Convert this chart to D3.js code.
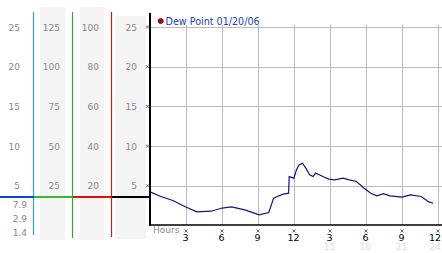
<!DOCTYPE html>
<html>
<head>
<meta charset="utf-8">
<script src="https://cdn.jsdelivr.net/npm/d3@7"></script>
<style>
  body { margin: 0; background: #fff; }
  svg { display: block; }
  text { font-family: "DejaVu Sans", Verdana, sans-serif; }
</style>
</head>
<body>
<div id="chart"></div>
<script>
// width and height
var w = 442;
var h = 253;

// dew point series (hours since midnight, value)
var hours = [0, 0.9, 1.9, 2.9, 3.9, 5.1, 6.0, 6.8, 7.9, 9.1, 9.9, 10.3, 10.6, 11.1, 11.55, 11.6,
  12.0, 12.2, 12.4, 12.7, 13.0, 13.3, 13.6, 13.8, 14.1, 14.5, 14.9, 15.4, 16.1, 16.6, 17.2,
  17.85, 18.4, 18.9, 19.45, 20.0, 21.0, 21.7, 22.6, 23.2, 23.6];
var dewPoint = [4.24, 3.65, 3.15, 2.4, 1.72, 1.8, 2.2, 2.35, 1.97, 1.35, 1.64, 3.45, 3.65, 3.95, 4.07, 6.16,
  5.96, 7.0, 7.6, 7.85, 7.2, 6.4, 6.16, 6.6, 6.4, 6.1, 5.85, 5.75, 5.96, 5.75, 5.55,
  4.7, 4.07, 3.73, 4.0, 3.73, 3.57, 3.86, 3.65, 3.0, 2.8];

var yTicks = [5, 10, 15, 20, 25];
var col2Ticks = [25, 50, 75, 100, 125];
var col3Ticks = [20, 40, 60, 80, 100];
var statLabels = ["7.9", "2.9", "1.4"];
var xTicks = [3, 6, 9, 12, 15, 18, 21, 24];
var xTickLabels = ["3", "6", "9", "12", "3", "6", "9", "12"];
var xTickLabels24 = ["15", "18", "21", "24"];
var currentValue = 3.6;
var legendText = "Dew Point 01/20/06";

var x = d3.scaleLinear().domain([0, 24]).range([150, 438]);
var y = d3.scaleLinear().domain([0, 25]).range([225.5, 27]);
var y2 = d3.scaleLinear().domain([0, 125]).range([225.5, 27]);
var y3 = d3.scaleLinear().domain([0, 100]).range([225.5, 27]);

var svg = d3.select("#chart")
  .append("svg")
  .attr("width", w)
  .attr("height", h);

//--------------------------- LEFT PANELS ---------------------------//

// grey column backgrounds
svg.append("rect").attr("x", 40).attr("y", 7).attr("width", 25).attr("height", 233).attr("fill", "#f4f4f4");
svg.append("rect").attr("x", 80).attr("y", 7).attr("width", 24).attr("height", 233).attr("fill", "#f4f4f4");
svg.append("rect").attr("x", 115).attr("y", 16).attr("width", 31).attr("height", 223).attr("fill", "#f4f4f4");

function colLabels(ticks, scale, right) {
  svg.append("g").selectAll("text")
    .data(ticks)
    .enter()
    .append("text")
    .text(function(d) { return d; })
    .attr("x", right)
    .attr("y", function(d) { return scale(d) + 3.5; })
    .attr("text-anchor", "end")
    .attr("font-size", "9px")
    .attr("fill", "#888888");
}
colLabels(yTicks, y, 20);
colLabels(col2Ticks, y2, 60);
colLabels(col3Ticks, y3, 99);
colLabels(yTicks, y, 137);

svg.selectAll("text.stat")
  .data(statLabels)
  .enter()
  .append("text")
  .attr("class", "stat")
  .text(function(d) { return d; })
  .attr("x", 27)
  .attr("y", function(d, i) { return 207.5 + i * 14; })
  .attr("text-anchor", "end")
  .attr("font-size", "9px")
  .attr("fill", "#888888");

// vertical separators
svg.append("line").attr("x1", 33.5).attr("x2", 33.5).attr("y1", 12).attr("y2", 235).attr("stroke", "#3a9ad9").attr("stroke-width", 1.2);
svg.append("line").attr("x1", 72.5).attr("x2", 72.5).attr("y1", 12).attr("y2", 238).attr("stroke", "#33aa33").attr("stroke-width", 1.2);
svg.append("line").attr("x1", 111.5).attr("x2", 111.5).attr("y1", 12).attr("y2", 237).attr("stroke", "#bb2222").attr("stroke-width", 1.2);

// current value bar
var cy = y(currentValue);
svg.append("line").attr("x1", 0).attr("x2", 34).attr("y1", cy).attr("y2", cy).attr("stroke", "#1040d0").attr("stroke-width", 2);
svg.append("line").attr("x1", 34).attr("x2", 72).attr("y1", cy).attr("y2", cy).attr("stroke", "#33bb33").attr("stroke-width", 2);
svg.append("line").attr("x1", 73).attr("x2", 111).attr("y1", cy).attr("y2", cy).attr("stroke", "#dd1111").attr("stroke-width", 2);
svg.append("line").attr("x1", 112).attr("x2", 150).attr("y1", cy).attr("y2", cy).attr("stroke", "#000").attr("stroke-width", 2);

//--------------------------- PLOT ---------------------------//

// grid
svg.append("g").selectAll("line")
  .data(yTicks)
  .enter()
  .append("line")
  .attr("x1", 150)
  .attr("x2", w)
  .attr("y1", function(d) { return Math.round(y(d)) + 0.5; })
  .attr("y2", function(d) { return Math.round(y(d)) + 0.5; })
  .attr("stroke", "#bbbbbb");

svg.append("g").selectAll("line")
  .data(xTicks)
  .enter()
  .append("line")
  .attr("x1", function(d) { return Math.round(x(d)) + 0.5; })
  .attr("x2", function(d) { return Math.round(x(d)) + 0.5; })
  .attr("y1", 25)
  .attr("y2", 225)
  .attr("stroke", "#bbbbbb");

// axes
svg.append("line").attr("x1", 150).attr("x2", 150).attr("y1", 13).attr("y2", 226).attr("stroke", "#000").attr("stroke-width", 2);
svg.append("line").attr("x1", 149).attr("x2", w).attr("y1", 225).attr("y2", 225).attr("stroke", "#000").attr("stroke-width", 1.5);

// small x tick marks
function tickMark(cx, cy) {
  svg.append("path")
    .attr("d", "M" + (cx - 1.5) + "," + (cy - 1.5) + "L" + (cx + 1.5) + "," + (cy + 1.5) +
      "M" + (cx + 1.5) + "," + (cy - 1.5) + "L" + (cx - 1.5) + "," + (cy + 1.5))
    .attr("stroke", "#444")
    .attr("stroke-width", 0.8);
}
yTicks.forEach(function(d) { tickMark(147.5, y(d)); });
xTicks.forEach(function(d) { tickMark(x(d), 231); });

// x labels
svg.append("text").text("Hours").attr("x", 153).attr("y", 233).attr("font-size", "9px").attr("fill", "#888888");

svg.append("g").selectAll("text")
  .data(xTicks)
  .enter()
  .append("text")
  .text(function(d, i) { return xTickLabels[i]; })
  .attr("x", function(d) { return d === 24 ? w - 1 : x(d) - 0.5; })
  .attr("y", 241)
  .attr("text-anchor", function(d) { return d === 24 ? "end" : "middle"; })
  .attr("font-size", "9.5px")
  .attr("fill", "#000");

svg.append("g").selectAll("text")
  .data(xTicks.slice(4))
  .enter()
  .append("text")
  .text(function(d, i) { return xTickLabels24[i]; })
  .attr("x", function(d) { return d === 24 ? w - 1 : x(d) - 0.5; })
  .attr("y", 250)
  .attr("text-anchor", function(d) { return d === 24 ? "end" : "middle"; })
  .attr("font-size", "9px")
  .attr("fill", "#dddddd");

// dew point line
var pts = hours.map(function(d, i) { return [d, dewPoint[i]]; });
svg.append("path")
  .datum(pts)
  .attr("d", d3.line()
    .x(function(d) { return x(d[0]); })
    .y(function(d) { return y(d[1]); }))
  .attr("fill", "none")
  .attr("stroke", "#14147f")
  .attr("stroke-width", 1.2);

// legend
svg.append("circle").attr("cx", 160.7).attr("cy", 21).attr("r", 2.6).attr("fill", "#9a0f0f").attr("stroke", "#300").attr("stroke-width", 0.6);
svg.append("text").text(legendText).attr("x", 165.5).attr("y", 24.5).attr("font-size", "9.6px").attr("fill", "#2244bb");
</script>
</body>
</html>
